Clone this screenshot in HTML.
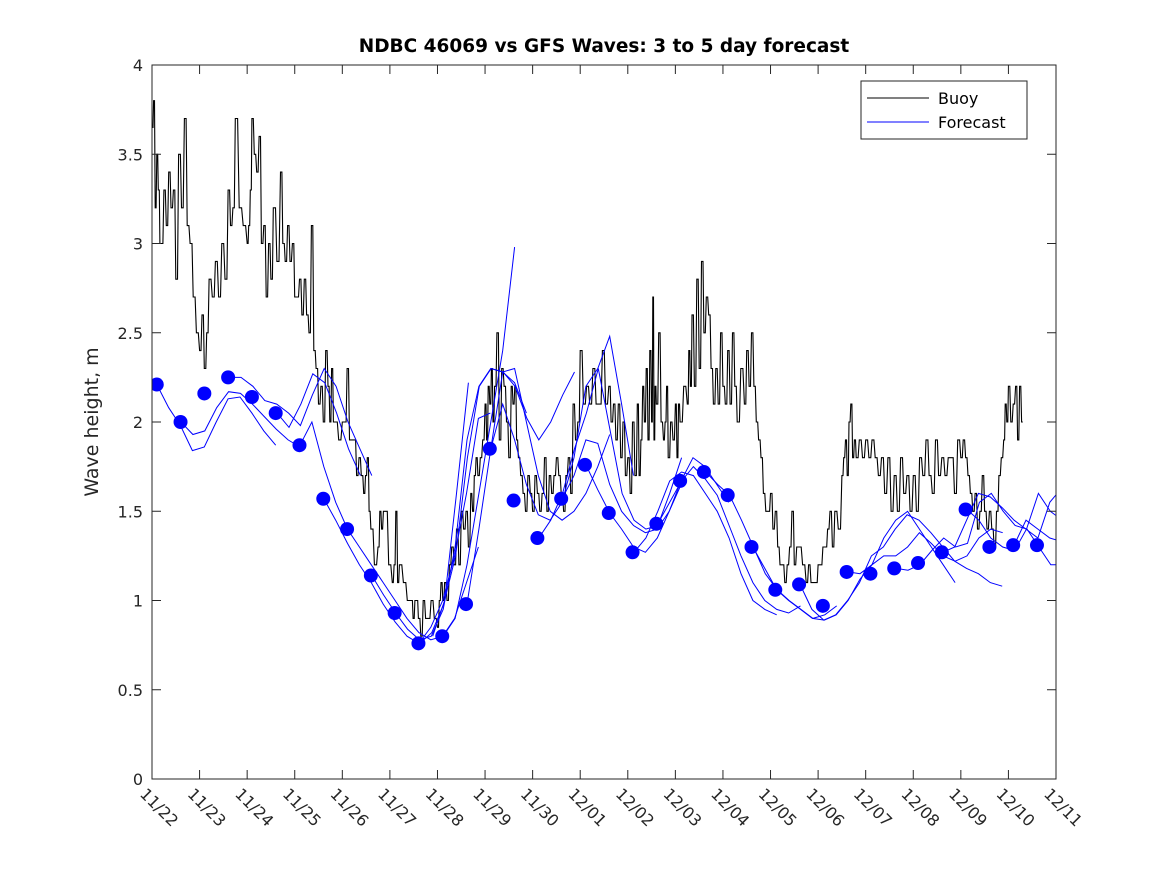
<!DOCTYPE html>
<html><head><meta charset="utf-8"><style>
body{margin:0;background:#fff;}
svg{display:block;font-family:"DejaVu Sans","Liberation Sans",sans-serif;}
</style></head><body>
<svg id="chart" width="1167" height="875" viewBox="0 0 1167 875" xmlns="http://www.w3.org/2000/svg">
<rect width="1167" height="875" fill="#fff"/>
<text x="604" y="52" text-anchor="middle" font-size="18.5" font-weight="bold" fill="#000">NDBC 46069 vs GFS Waves: 3 to 5 day forecast</text>
<text transform="translate(98,422) rotate(-90)" text-anchor="middle" font-size="19" fill="#262626">Wave height, m</text>
<defs><clipPath id="plotclip"><rect x="152" y="65" width="904" height="714"/></clipPath></defs>
<g id="series" clip-path="url(#plotclip)"></g>
<rect x="152" y="65" width="904" height="714" fill="none" stroke="#262626" stroke-width="1"/>
<g id="ticks"></g>
<g>
<rect x="861" y="81" width="166" height="58" fill="#fff" stroke="#262626" stroke-width="1"/>
<g><line x1="867" y1="98" x2="929" y2="98" stroke="#000"/><text x="938" y="104" font-size="16" fill="#000">Buoy</text></g>
<g><line x1="867" y1="122" x2="929" y2="122" stroke="#0000ff"/><text x="938" y="128" font-size="16" fill="#000">Forecast</text></g>
</g>
</svg>
<script>
const xTickLabels=["11/22","11/23","11/24","11/25","11/26","11/27","11/28","11/29","11/30","12/01","12/02","12/03","12/04","12/05","12/06","12/07","12/08","12/09","12/10","12/11"];
const yTickValues=[0,0.5,1,1.5,2,2.5,3,3.5,4];
// buoy: groups [startDay, values...]
const buoyGroups=[
[0,3.65,3.8,3.2,3.5,3.3,3.0],[0.2,3.0,3.3,3.1,3.4,3.2,3.3],[0.5,2.8,3.5,3.2,3.7,3.1],[0.8,3.0,2.7,2.5],[1.0,2.4,2.6,2.3,2.5],
[1.2,2.8,2.7,2.9],[1.4,2.7,3.0,2.8],[1.6,3.3,3.1,3.2],[1.75,3.7,3.2,3.1],[2.0,3.0,3.1,3.3],[2.1,3.7,3.5,3.4],[2.25,3.6,3.0,3.1],
[2.4,2.7,3.0,2.8],[2.55,3.2,2.9],[2.7,3.4,3.0,2.9],[2.85,3.1,2.9,3.0],[3.0,2.7,2.7,2.8,2.6],[3.2,2.8,2.6,2.5],[3.35,3.1,2.4,2.3,2.1],
[3.55,2.2,2.0,2.4],[3.7,2.2,2.0,2.3,2.0],[3.85,2.0,1.9],[4.0,2.0,2.0,2.3,1.9,1.9],[4.25,1.9,1.7,1.8,1.7],[4.45,1.6,1.7,1.8,1.5],
[4.6,1.4,1.2],[4.75,1.3,1.5,1.4,1.5],[4.9,1.5,1.2],[5.05,1.1,1.2,1.5,1.1],[5.2,1.2,1.1,1.0],[5.45,1.0,0.9,1.0,1.0],[5.6,0.9,0.8,1.0,0.9],
[5.8,0.9,1.0,0.9],[6.0,0.85,1.0,1.1,1.0],[6.15,1.1,1.0,1.2],[6.3,1.3,1.2,1.4,1.2],[6.5,1.5,1.4,1.5,1.3],[6.7,1.6,1.5,1.7,1.8],
[6.85,1.7,1.8,1.9],[7.0,2.1,1.9,2.2],[7.1,2.1,2.3,2.0],[7.2,2.2,2.5,1.9,2.3],[7.4,2.2,2.0,1.8],[7.55,2.2,2.1,2.2,1.9],[7.7,1.8,1.7,1.6],
[7.85,1.5,1.7,1.6],[8.0,1.5,1.7,1.6,1.5],[8.2,1.6,1.8,1.5,1.7],[8.4,1.6,1.7,1.8],[8.55,1.7,1.6,1.5],[8.7,1.7,1.8,1.6],[8.85,2.1,1.9,2.0],
[9.0,2.4,2.1,2.2],[9.2,2.1,2.3,2.1],[9.4,2.1,2.4,2.1],[9.6,2.2,2.0,2.1],[9.75,1.9,2.1,1.8],[9.9,2.0,1.7,1.8],[10.05,1.6,2.0,1.7],
[10.2,2.1,1.7,1.9,2.2],[10.35,2.0,2.3,1.9,2.4],[10.5,2.0,2.7,1.9,2.2],[10.6,2.1,2.5,2.0],[10.75,1.9,2.0,2.2],[10.85,1.8,2.0,1.9],
[11.0,2.1,1.8,2.1],[11.1,2.0,2.2],[11.25,2.1,2.4,2.2],[11.35,2.6,2.2],[11.45,2.8,2.3],[11.55,2.9,2.5,2.7],[11.7,2.6,2.3,2.1],
[11.85,2.3,2.1,2.5],[12.0,2.2,2.1,2.4],[12.15,2.1,2.5,2.2],[12.3,2.0,2.3],[12.45,2.1,2.4],[12.55,2.2,2.5,2.2],[12.7,2.0,1.9,1.8],
[12.85,1.6,1.5,1.5],[13.0,1.6,1.4,1.5],[13.15,1.3,1.2,1.2],[13.3,1.1,1.2,1.3],[13.45,1.5,1.2,1.3],[13.6,1.3,1.2],[13.75,1.1,1.2,1.1],
[13.9,1.1,1.1,1.2],[14.05,1.2,1.3,1.3],[14.2,1.4,1.5,1.3],[14.35,1.5,1.4],[14.5,1.7,1.8,1.9,1.7],[14.65,2.0,2.1,1.8,1.9],[14.8,1.8,1.9,1.8],
[15.0,1.9,1.8,1.9],[15.2,1.8,1.7,1.8],[15.4,1.6,1.8,1.5],[15.6,1.7,1.5,1.8],[15.8,1.6,1.7,1.5],[16.0,1.7,1.5,1.8],[16.2,1.7,1.9,1.7],
[16.4,1.6,1.9,1.7],[16.6,1.8,1.7,1.8],[16.8,1.8,1.6,1.9],[17.0,1.8,1.9,1.8],[17.15,1.7,1.6,1.5],[17.3,1.6,1.4,1.5],[17.45,1.7,1.5,1.4],
[17.6,1.5,1.4,1.3],[17.75,1.5,1.7,1.8],[17.9,1.9,2.1,2.0],[18.0,2.2,2.0,2.1],[18.15,2.2,1.9,2.2,2.0]];
const buoyEnd=18.32;
// forecast dots
const dotStart=0.1, dotStep=0.5;
const dotValues=[2.21,2.0,2.16,2.25,2.14,2.05,1.87,1.57,1.40,1.14,0.93,0.76,0.80,0.98,1.85,1.56,1.35,1.57,1.76,1.49,1.27,1.43,1.67,1.72,1.59,1.30,1.06,1.09,0.97,1.16,1.15,1.18,1.21,1.27,1.51,1.30,1.31,1.31];
// forecast lines: [startDay, values at 0.25-day step]
const lineStep=0.25;
const fcLines=[
[0.1,2.21,2.08,1.98,1.84,1.86,2.0,2.13,2.14,2.05,1.95,1.87],
[0.61,2.0,1.93,1.95,2.08,2.17,2.16,2.1,2.03,1.96,1.9,1.86],
[1.62,2.25,2.25,2.2,2.12,2.1,2.05,1.98,2.15,2.3,2.2,2.0,1.85,1.7],
[2.63,2.05,1.97,2.1,2.27,2.22,2.05,1.85,1.7],
[3.11,1.87,2.0,1.75,1.55,1.4,1.3,1.2,1.1,1.0,0.9,0.82,0.78,0.8,0.9,1.1,1.3],
[3.61,1.57,1.45,1.32,1.2,1.1,0.98,0.88,0.80,0.76,0.85,1.0,1.25,1.6,2.02,2.05],
[4.62,1.14,1.03,0.93,0.84,0.78,0.80,0.95,1.3,1.9,2.2,2.3,2.28,2.22,2.05],
[5.63,0.76,0.82,0.98,1.25,1.8,2.2,2.3,2.28,2.2,2.02,1.9,2.0,2.15,2.28],
[5.9,0.8,1.0,1.6,2.22],
[6.12,0.80,0.9,1.2,1.6,2.0,2.4,2.98],
[6.62,0.98,1.4,1.85,2.28,2.3,2.0,1.7,1.5,1.45,1.5,1.6,1.75,1.93],
[7.12,1.85,2.1,1.9,1.65,1.48,1.45,1.55,1.8,2.2,2.3,2.48,2.1,1.7],
[8.13,1.35,1.45,1.6,1.85,2.05,2.3,1.95,1.6,1.45,1.4,1.42,1.6,1.8],
[8.62,1.57,1.7,1.9,1.88,1.65,1.5,1.42,1.38,1.4,1.5,1.65],
[9.12,1.76,1.62,1.49,1.4,1.3,1.27,1.35,1.5,1.67,1.8,1.75,1.65,1.55],
[10.13,1.27,1.35,1.5,1.67,1.72,1.7,1.6,1.5,1.35,1.15,1.0,0.95,0.92],
[10.63,1.43,1.55,1.67,1.75,1.68,1.59,1.42,1.25,1.1,1.0,0.95,0.93,0.97],
[11.64,1.72,1.65,1.59,1.45,1.3,1.15,1.06,1.0,0.95,0.9,0.92,0.97],
[12.63,1.30,1.18,1.06,1.0,0.95,0.9,0.89,0.92,1.0,1.12,1.2,1.35,1.45,1.5,1.4,1.3,1.2,1.1],
[13.62,1.09,0.95,0.89,0.92,1.0,1.1,1.25,1.3,1.4,1.48,1.45,1.38,1.3,1.22,1.18,1.15,1.1,1.08],
[14.63,1.16,1.15,1.2,1.25,1.25,1.3,1.38,1.32,1.25,1.22,1.25,1.35,1.4,1.38],
[15.64,1.18,1.17,1.2,1.28,1.35,1.3,1.32,1.55,1.6,1.5,1.42,1.4,1.3,1.2,1.2],
[16.62,1.27,1.3,1.45,1.6,1.58,1.52,1.45,1.4,1.35,1.55,1.63,1.52,1.42,1.38,1.4,1.45],
[17.13,1.51,1.45,1.35,1.3,1.28,1.4,1.6,1.5,1.45,1.4,1.37,1.36],
[18.12,1.31,1.45,1.4,1.35,1.33,1.32,1.3]];

const X0=152,X1=1056,Y0=779,Y1=65,DAYS=19,YMAX=4;
const xs=d=>X0+(X1-X0)*d/DAYS;
const ys=v=>Y0-(Y0-Y1)*v/YMAX;
const NS="http://www.w3.org/2000/svg";
function mk(tag,attrs,parent){const e=document.createElementNS(NS,tag);for(const k in attrs)e.setAttribute(k,attrs[k]);parent.appendChild(e);return e;}
const ticks=document.getElementById('ticks'),series=document.getElementById('series');
xTickLabels.forEach((lab,i)=>{const x=xs(i);
 const t1=mk('line',{x1:x,y1:Y0,x2:x,y2:Y0-9,stroke:'#262626'},ticks);
 
 
 mk('line',{x1:x,y1:Y1,x2:x,y2:Y1+9,stroke:'#262626'},ticks);
 const t=mk('text',{transform:`translate(${x-13},${Y0+16}) rotate(45)`,'font-size':16,fill:'#262626'},ticks);
 
 
 t.textContent=lab;});
yTickValues.forEach(v=>{const y=ys(v);
 mk('line',{x1:X0,y1:y,x2:X0+9,y2:y,stroke:'#262626'},ticks);
 mk('line',{x1:X1,y1:y,x2:X1-9,y2:y,stroke:'#262626'},ticks);
 const t=mk('text',{x:X0-9,y:y+6,'text-anchor':'end','font-size':16,fill:'#262626'},ticks);
 
 
 t.textContent=String(v);});
// buoy (step-like segments)
let pts=[];
buoyGroups.forEach((g,i)=>{const s=g[0];const e=i+1<buoyGroups.length?buoyGroups[i+1][0]:buoyEnd;const n=g.length-1;
 for(let j=0;j<n;j++){const xa=xs(s+(e-s)*j/n),xb=xs(s+(e-s)*(j+0.6)/n);pts.push([xa,ys(g[j+1])]);pts.push([xb,ys(g[j+1])]);}});
let dstr='';pts.forEach((p,i)=>{dstr+=(i?'L':'M')+p[0].toFixed(1)+','+p[1].toFixed(1);});
const bl=mk('path',{d:dstr,fill:'none',stroke:'#000','stroke-width':1.1},series);


fcLines.forEach(l=>{let d='';for(let j=1;j<l.length;j++){d+=(j>1?'L':'M')+xs(l[0]+(j-1)*lineStep).toFixed(1)+','+ys(l[j]).toFixed(1);}
 const p=mk('path',{d:d,fill:'none',stroke:'#0000ff','stroke-width':1},series);
 
 });
dotValues.forEach((v,i)=>{const c=mk('circle',{cx:xs(dotStart+i*dotStep),cy:ys(v),r:7,fill:'#0000ff'},series);
 
 });
</script>
</body></html>
